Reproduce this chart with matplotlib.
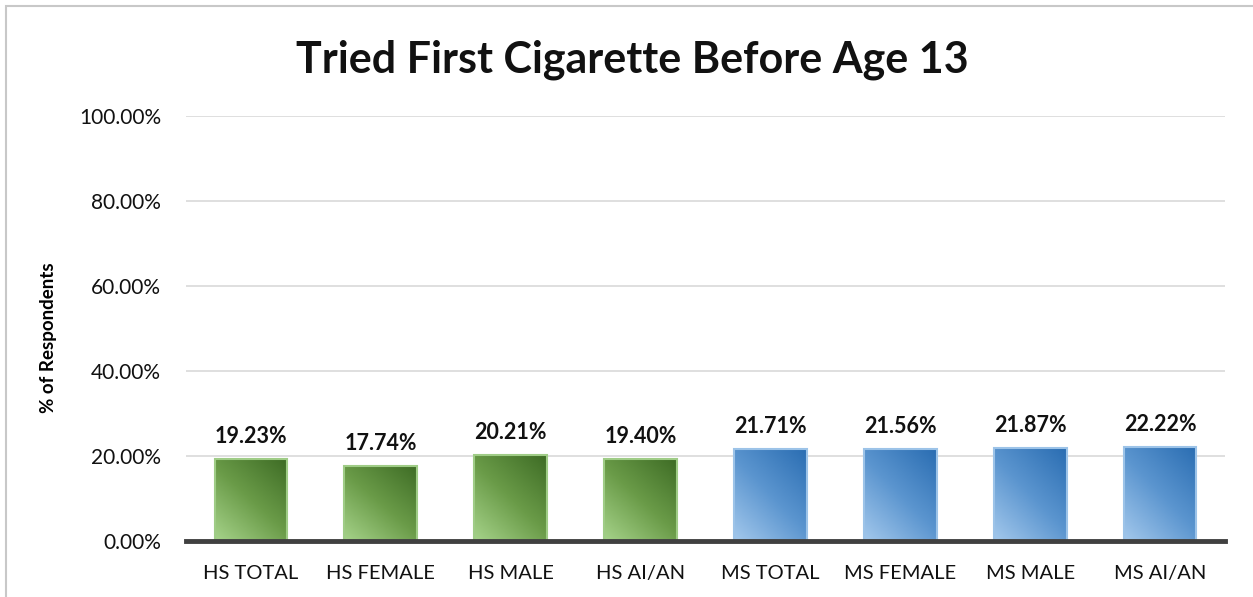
import matplotlib

matplotlib.use("Agg")

import matplotlib.pyplot as plt
import numpy as np
from matplotlib.colors import LinearSegmentedColormap
from matplotlib.patches import Rectangle
from matplotlib.ticker import FuncFormatter, MultipleLocator

TITLE = "Tried First Cigarette Before Age 13"
Y_LABEL = "% of Respondents"
CATEGORIES = ["HS TOTAL", "HS FEMALE", "HS MALE", "HS AI/AN",
              "MS TOTAL", "MS FEMALE", "MS MALE", "MS AI/AN"]
VALUES = [19.23, 17.74, 20.21, 19.40, 21.71, 21.56, 21.87, 22.22]
GROUPS = ["HS", "HS", "HS", "HS", "MS", "MS", "MS", "MS"]

FONT = ["Lato", "DejaVu Sans"]
plt.rcParams["font.family"] = FONT

GRADIENTS = {
    "HS": (["#a6d38a", "#6a9b48", "#3e6c25"], "#9fcc86"),
    "MS": (["#a3c8ec", "#5b95cf", "#2a6db2"], "#9cc3e8"),
}


def gradient_bar(ax, x, height, width, group):
    colors, edge = GRADIENTS[group]
    cmap = LinearSegmentedColormap.from_list(group, colors)
    xs = np.linspace(0, 1, 64)
    ys = np.linspace(0, 1, 64)
    gx, gy = np.meshgrid(xs, ys)
    grad = 0.45 * gx + 0.55 * gy
    left = x - width / 2
    rect = Rectangle((left, 0), width, height, facecolor="none",
                     edgecolor=edge, linewidth=1.5, zorder=4)
    ax.add_patch(rect)
    img = ax.imshow(grad, cmap=cmap, origin="lower", aspect="auto",
                    extent=(left, left + width, 0, height), zorder=3)
    img.set_clip_path(rect)


fig = plt.figure(figsize=(12.53, 5.97), dpi=100)
fig.patches.append(Rectangle((0.005, -0.01), 1.2, 1.0, transform=fig.transFigure,
                             facecolor="none", edgecolor="#c8c8c8", linewidth=1.5))
ax = fig.add_axes([0.1484, 0.0938, 0.8293, 0.7119])

x = np.arange(len(CATEGORIES))
for xi, v, g in zip(x, VALUES, GROUPS):
    gradient_bar(ax, xi, v, 0.56, g)
    ax.text(xi, v + 2.8, f"{v:.2f}%", ha="center", va="bottom",
            fontsize=15.5, fontweight="bold", color="#111111", zorder=5)

ax.set_xlim(-0.5, len(CATEGORIES) - 0.5)
ax.set_ylim(0, 100)
ax.yaxis.set_major_locator(MultipleLocator(20))
ax.yaxis.set_major_formatter(FuncFormatter(lambda v, _: f"{v:.2f}%"))
ax.set_xticks(x, CATEGORIES)
ax.tick_params(axis="both", length=0, labelsize=14.5, colors="#111111")
ax.tick_params(axis="x", pad=17)
ax.tick_params(axis="y", labelsize=15, pad=18)
ax.grid(axis="y", color="#d9d9d9", linewidth=1.2, zorder=0)
ax.set_axisbelow(True)
for side in ["top", "right", "left"]:
    ax.spines[side].set_visible(False)
ax.spines["bottom"].set_color("#404040")
ax.spines["bottom"].set_linewidth(3.5)
ax.spines["bottom"].set_zorder(6)

ax.set_ylabel(Y_LABEL, fontsize=13.5, fontweight="bold")
ax.yaxis.set_label_coords(-0.124, 0.478)
fig.text(0.505, 0.9, TITLE, ha="center", va="center",
         fontsize=31, fontweight="bold", color="#111111")

fig.savefig("out.png", dpi=100)
